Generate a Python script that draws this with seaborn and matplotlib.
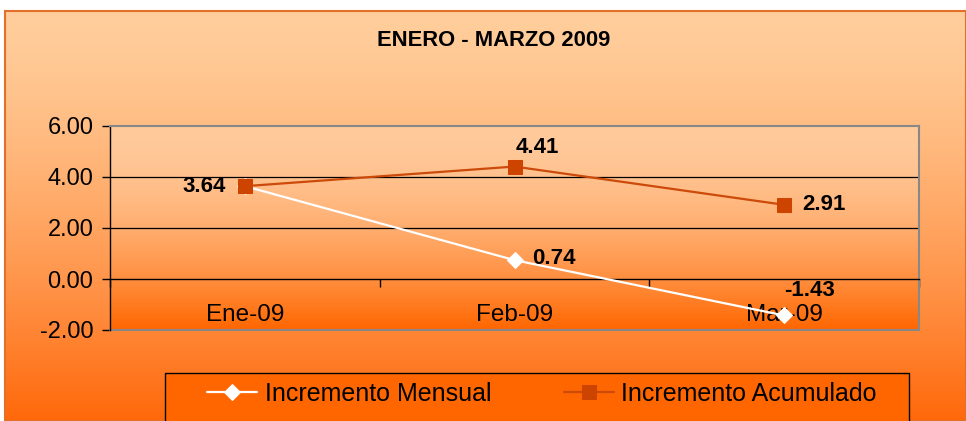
import numpy as np
import pandas as pd
import seaborn as sns
import matplotlib.pyplot as plt
from matplotlib.patches import Rectangle
from matplotlib.ticker import FixedLocator, FormatStrFormatter

# datos
meses = ['Ene-09', 'Feb-09', 'Mar-09']
incremento_mensual = [3.64, 0.74, -1.43]
incremento_acumulado = [3.64, 4.41, 2.91]
titulo = 'ENERO - MARZO 2009'

sns.set_style('white')
plt.rcParams['font.family'] = ['Liberation Sans', 'DejaVu Sans']
plt.rcParams['axes.unicode_minus'] = False
plt.rcParams['text.color'] = 'black'
plt.rcParams['xtick.color'] = 'black'
plt.rcParams['ytick.color'] = 'black'

W, H = 966, 421
fig = plt.figure(figsize=(W / 100, H / 100), dpi=100, facecolor='white')

def px(x0, y0, x1, y1):
    # caja en pixeles (origen arriba-izquierda) -> fraccion de figura
    return [x0 / W, 1 - y1 / H, (x1 - x0) / W, (y1 - y0) / H]

def gradiente(top, bottom, power, n=256):
    t = np.linspace(0, 1, n) ** power
    top = np.array(top) / 255
    bottom = np.array(bottom) / 255
    cols = top[None, :] * (1 - t[:, None]) + bottom[None, :] * t[:, None]
    return cols[:, None, :]

# fondo del grafico
bg = fig.add_axes(px(5, 11, 966, 421), zorder=-5)
bg.imshow(gradiente((255, 206, 156), (255, 104, 10), 1.4), aspect='auto',
          extent=(0, 1, 0, 1), transform=bg.transAxes)
bg.set_xlim(0, 1)
bg.set_ylim(0, 1)
bg.axis('off')
bg.add_patch(Rectangle((0, 0), 1, 1, transform=bg.transAxes, fill=False,
                       edgecolor='#E0702A', lw=1.5, clip_on=False))

fig.text(494 / W, 1 - 40 / H, titulo, ha='center', va='center',
         fontsize=15.8, fontweight='bold', color='black')

# area de trazado
ax = fig.add_axes(px(110, 126, 919, 330))
ax.imshow(gradiente((255, 202, 155), (255, 102, 0), 1.8), aspect='auto',
          extent=(0, 1, 0, 1), transform=ax.transAxes, zorder=0)

df = pd.DataFrame({'Mes': meses,
                   'Incremento Mensual': incremento_mensual,
                   'Incremento Acumulado': incremento_acumulado})

sns.lineplot(data=df, x='Mes', y='Incremento Mensual', ax=ax, color='white',
             lw=1.6, marker='D', markersize=8, markeredgecolor='white',
             label='Incremento Mensual', sort=False, zorder=3)
sns.lineplot(data=df, x='Mes', y='Incremento Acumulado', ax=ax, color='#CC4A0A',
             lw=1.6, marker='s', markersize=9.5, markerfacecolor='#CC4400',
             markeredgecolor='#CC4400', label='Incremento Acumulado', sort=False,
             zorder=3)

ax.set_xlim(-0.5, 2.5)
ax.set_ylim(-2, 6)
ax.set_xlabel('')
ax.set_ylabel('')

for v in [2, 4]:
    ax.axhline(v, color='black', lw=0.9, zorder=1)
ax.axhline(-2, color='#888888', lw=1.5, zorder=1, clip_on=False)

ax.set_yticks([-2, 0, 2, 4, 6])
ax.yaxis.set_major_formatter(FormatStrFormatter('%.2f'))
ax.tick_params(axis='y', labelsize=17, length=6, width=1, color='black',
               direction='out', left=True, pad=6)

ax.spines['bottom'].set_position(('data', 0))
ax.spines['bottom'].set_color('black')
ax.spines['bottom'].set_linewidth(1)
ax.spines['left'].set_color('black')
ax.spines['left'].set_linewidth(1)
for s in ['top', 'right']:
    ax.spines[s].set_color('#888888')
    ax.spines[s].set_linewidth(1.5)

ax.xaxis.set_major_locator(FixedLocator([-0.5, 0.5, 1.5, 2.5]))
ax.xaxis.set_minor_locator(FixedLocator([0, 1, 2]))
ax.set_xticklabels([], minor=False)
ax.set_xticklabels(meses, minor=True)
ax.tick_params(axis='x', which='major', length=6, width=1, color='black',
               direction='out', bottom=True)
ax.tick_params(axis='x', which='minor', length=0, labelsize=17.5, pad=18)

# etiquetas de datos
lab = dict(fontsize=16, fontweight='bold', color='black',
           textcoords='offset points', zorder=4)
ax.annotate(f'{incremento_acumulado[0]:.2f}', (meses[0], incremento_acumulado[0]),
            xytext=(-14, 0), ha='right', va='center', **lab)
ax.annotate(f'{incremento_acumulado[1]:.2f}', (meses[1], incremento_acumulado[1]),
            xytext=(1, 14), ha='left', va='center', **lab)
ax.annotate(f'{incremento_acumulado[2]:.2f}', (meses[2], incremento_acumulado[2]),
            xytext=(13, 0), ha='left', va='center', **lab)
ax.annotate(f'{incremento_mensual[1]:.2f}', (meses[1], incremento_mensual[1]),
            xytext=(13, 1), ha='left', va='center', **lab)
ax.annotate(f'{incremento_mensual[2]:.2f}', (meses[2], incremento_mensual[2]),
            xytext=(0, 18), ha='left', va='center', **lab)

# leyenda
handles, labels = ax.get_legend_handles_labels()
ax.get_legend().remove()
fig.patches.append(Rectangle((165 / W, -0.01), (909 - 165) / W, 1 - 373 / H + 0.01,
                             transform=fig.transFigure, facecolor='#FF6600',
                             edgecolor='black', lw=1, zorder=-1))
fig.legend(handles, labels, loc='center', bbox_to_anchor=(542 / W, 1 - 394 / H),
           ncol=2, frameon=False, fontsize=18, handlelength=2.0,
           handletextpad=0.3, columnspacing=2.9)

fig.savefig('out.png', dpi=100, facecolor='white')
